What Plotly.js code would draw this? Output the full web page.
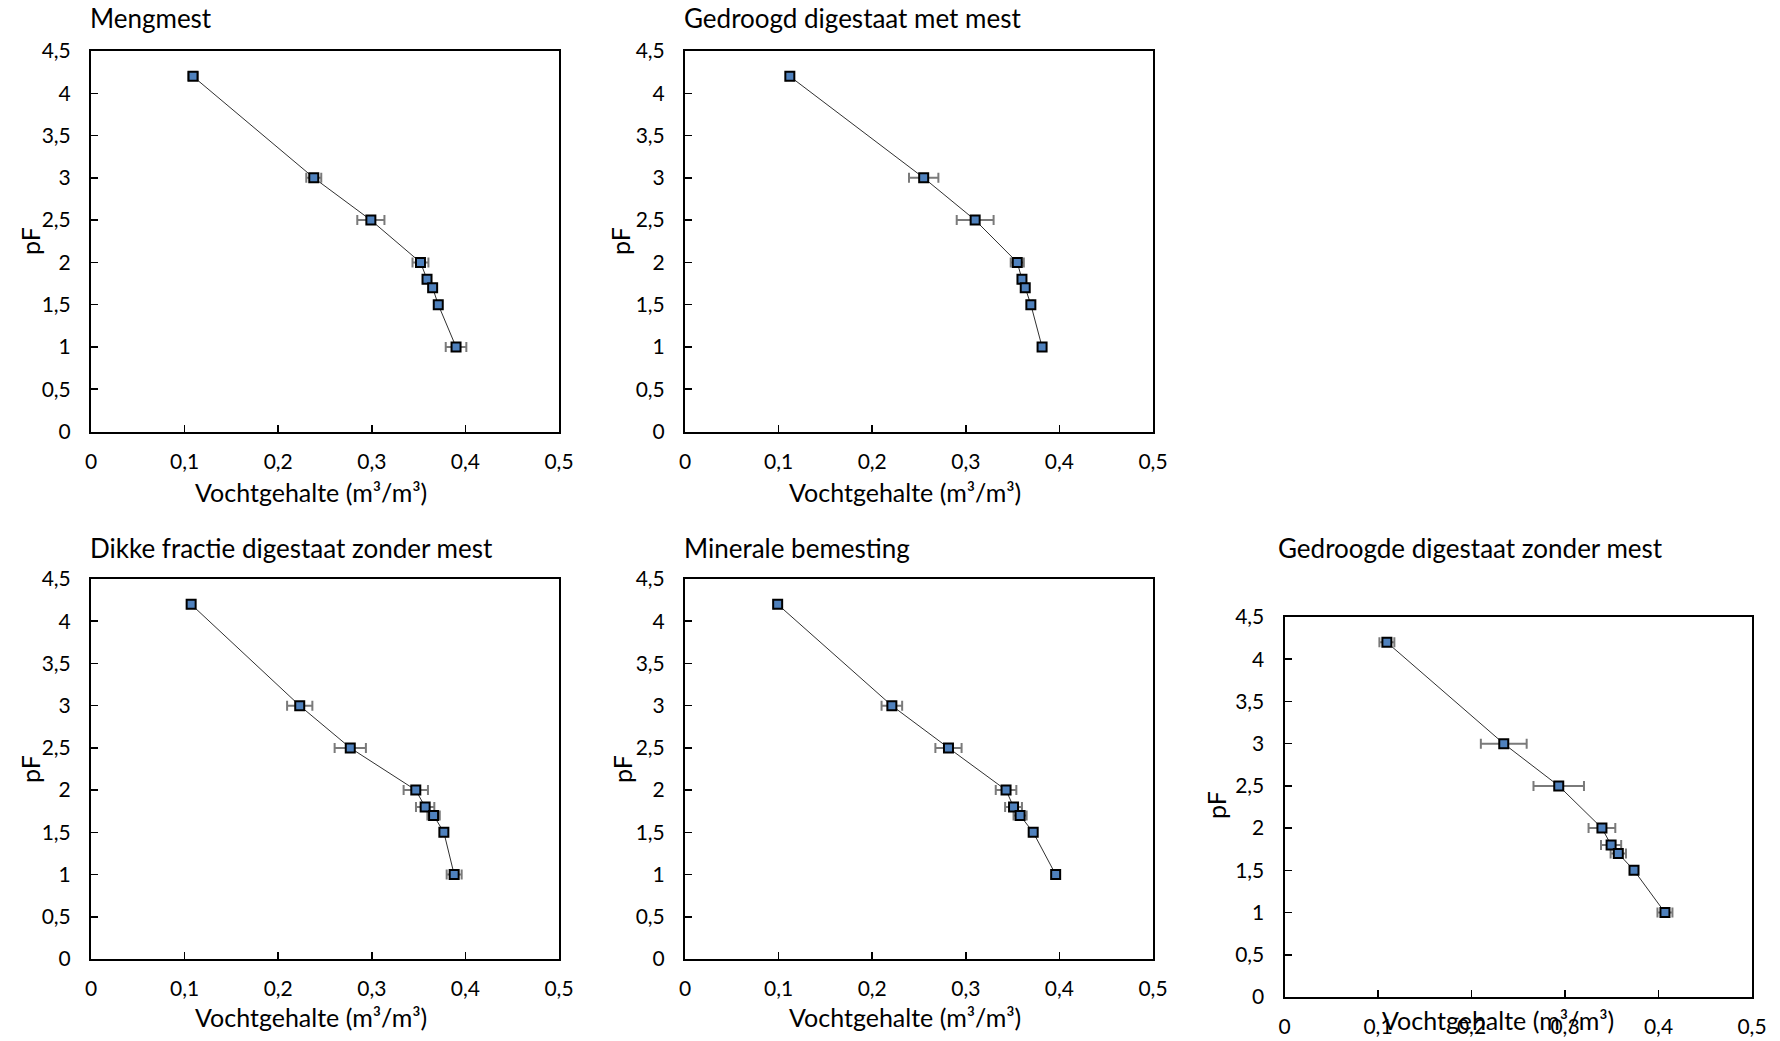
<!DOCTYPE html>
<html>
<head>
<meta charset="utf-8">
<script src="https://cdn.plot.ly/plotly-3.0.1.min.js"></script>
<style>
html, body { margin: 0; padding: 0; background: #ffffff; }
#chart { width: 1780px; height: 1041px; }
</style>
</head>
<body>
<div id="chart"></div>
<script>
// ---- data ----
const pF = [4.2, 3, 2.5, 2, 1.8, 1.7, 1.5, 1];

const panelTitles = [
  "Mengmest",
  "Gedroogd digestaat met mest",
  "Dikke fractie digestaat zonder mest",
  "Minerale bemesting",
  "Gedroogde digestaat zonder mest"
];

const mengmest        = [0.109, 0.238, 0.299, 0.352, 0.359, 0.365, 0.371, 0.390];
const mengmestErr     = [0.005, 0.008, 0.0145, 0.0085, 0.004, 0.003, 0.002, 0.011];

const gedroogdMet     = [0.112, 0.255, 0.310, 0.355, 0.360, 0.3635, 0.3695, 0.3815];
const gedroogdMetErr  = [0.004, 0.0157, 0.0197, 0.007, 0.003, 0.003, 0.002, 0.003];

const dikkeFractie    = [0.107, 0.223, 0.277, 0.347, 0.357, 0.366, 0.377, 0.388];
const dikkeFractieErr = [0.004, 0.0135, 0.0167, 0.013, 0.0098, 0.0066, 0.003, 0.008];

const minerale        = [0.099, 0.221, 0.2815, 0.343, 0.351, 0.358, 0.372, 0.396];
const mineraleErr     = [0.004, 0.011, 0.014, 0.011, 0.009, 0.007, 0.003, 0.003];

const gedroogdZonder    = [0.1095, 0.2345, 0.2933, 0.3395, 0.3493, 0.357, 0.3738, 0.4069];
const gedroogdZonderErr = [0.008, 0.0245, 0.027, 0.0143, 0.0108, 0.0082, 0.003, 0.008];

const xTitle = "Vochtgehalte (m³/m³)";
const yTitle = "pF";

// ---- layout geometry (pixels) ----
const W = 1780, H = 1041;
const panels = [
  {x: mengmest,       e: mengmestErr,       px: [91, 559],    py: [51, 431.5],  tl: [88, 18],   xt: [311, 492],  yt: [30, 241]},
  {x: gedroogdMet,    e: gedroogdMetErr,    px: [685, 1153],  py: [51, 431.5],  tl: [682, 18],  xt: [905, 492],  yt: [620, 241]},
  {x: dikkeFractie,   e: dikkeFractieErr,   px: [91, 559],    py: [579, 959],   tl: [88, 548],  xt: [311, 1017], yt: [30, 769]},
  {x: minerale,       e: mineraleErr,       px: [685, 1153],  py: [579, 959],   tl: [682, 548], xt: [905, 1017], yt: [622, 769]},
  {x: gedroogdZonder, e: gedroogdZonderErr, px: [1284.5, 1752], py: [617, 997], tl: [1276, 548], xt: [1498, 1020], yt: [1216, 805]}
];

const FONT = 'Lato, "Open Sans", sans-serif';
const fx = p => p / W;
const fy = p => 1 - p / H;

const traces = [];
const layout = {
  width: W, height: H,
  margin: {l: 0, r: 0, t: 0, b: 0},
  paper_bgcolor: '#ffffff',
  plot_bgcolor: '#ffffff',
  showlegend: false,
  separators: ',.',
  font: {family: FONT, color: '#000000', size: 21},
  annotations: []
};

panels.forEach((p, i) => {
  const n = i === 0 ? '' : String(i + 1);
  traces.push({
    type: 'scatter',
    mode: 'lines+markers',
    x: p.x, y: pF,
    xaxis: 'x' + n, yaxis: 'y' + n,
    line: {color: '#303030', width: 1},
    marker: {symbol: 'square', size: 9, color: '#4f81bd', line: {color: '#000000', width: 2}},
    error_x: {type: 'data', array: p.e, visible: true, color: '#7a7a7a', thickness: 2, width: 5},
    hoverinfo: 'x+y'
  });
  const axCommon = {
    showline: true, mirror: true, linecolor: '#000000', linewidth: 2,
    ticks: 'inside', ticklen: 7, tickwidth: 1.5, tickcolor: '#000000',
    showgrid: false, zeroline: false,
    tickfont: {family: FONT, size: 21, color: '#000000'}
  };
  layout['xaxis' + n] = Object.assign({}, axCommon, {
    domain: [fx(p.px[0]), fx(p.px[1])],
    anchor: 'y' + n,
    range: [0, 0.5], dtick: 0.1, tick0: 0,
    ticklabelstandoff: 10
  });
  layout['yaxis' + n] = Object.assign({}, axCommon, {
    domain: [fy(p.py[1]), fy(p.py[0])],
    anchor: 'x' + n,
    range: [0, 4.5], dtick: 0.5, tick0: 0,
    ticklabelstandoff: 14
  });
  layout.annotations.push({
    text: panelTitles[i], xref: 'paper', yref: 'paper',
    x: fx(p.tl[0]), y: fy(p.tl[1]), xanchor: 'left', yanchor: 'middle',
    showarrow: false, font: {family: FONT, size: 26, color: '#000000'}
  });
  layout.annotations.push({
    text: xTitle, xref: 'paper', yref: 'paper',
    x: fx(p.xt[0]), y: fy(p.xt[1]), xanchor: 'center', yanchor: 'middle',
    showarrow: false, font: {family: FONT, size: 25, color: '#000000'}
  });
  layout.annotations.push({
    text: yTitle, xref: 'paper', yref: 'paper', textangle: -90,
    x: fx(p.yt[0]), y: fy(p.yt[1]), xanchor: 'center', yanchor: 'middle',
    showarrow: false, font: {family: FONT, size: 25, color: '#000000'}
  });
});

Plotly.newPlot('chart', traces, layout, {displayModeBar: false, staticPlot: true});
</script>
</body>
</html>
